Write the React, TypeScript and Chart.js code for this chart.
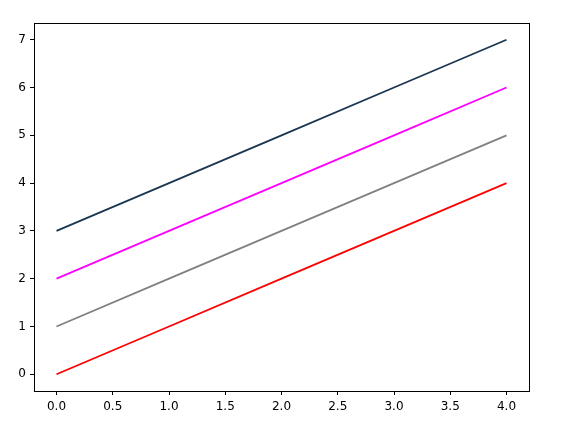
import React, { useEffect, useRef } from "react";
import { Chart, registerables } from "chart.js";

Chart.register(...registerables);

const xValues = [0, 1, 2, 3, 4];
const redSeries = [0, 1, 2, 3, 4];
const graySeries = [1, 2, 3, 4, 5];
const magentaSeries = [2, 3, 4, 5, 6];
const navySeries = [3, 4, 5, 6, 7];
const xTicks = [0, 0.5, 1, 1.5, 2, 2.5, 3, 3.5, 4];
const yTicks = [0, 1, 2, 3, 4, 5, 6, 7];

const frame = {
  id: "frame",
  afterDraw(chart: any) {
    const { ctx, chartArea } = chart;
    ctx.save();
    ctx.strokeStyle = "#000";
    ctx.lineWidth = 1;
    ctx.strokeRect(
      Math.round(chartArea.left) + 0.5,
      Math.round(chartArea.top) + 0.5,
      Math.round(chartArea.right - chartArea.left),
      Math.round(chartArea.bottom - chartArea.top)
    );
    ctx.restore();
  },
};

export default function App() {
  const ref = useRef<HTMLCanvasElement>(null);
  useEffect(() => {
    const mk = (data: number[], color: string) => ({
      data: xValues.map((x, i) => ({ x, y: data[i] })),
      borderColor: color,
      backgroundColor: color,
      borderWidth: 1.8,
      pointRadius: 0,
      fill: false,
      tension: 0,
    });
    const font = { family: "DejaVu Sans", size: 12 };
    const chart = new Chart(ref.current!, {
      type: "line",
      data: {
        datasets: [
          mk(redSeries, "#ff0000"),
          mk(graySeries, "#808080"),
          mk(magentaSeries, "#ff00ff"),
          mk(navySeries, "#1b3650"),
        ],
      },
      options: {
        animation: false,
        responsive: false,
        maintainAspectRatio: false,
        layout: { padding: { left: 0, right: 32, top: 23, bottom: 0 } },
        plugins: { legend: { display: false }, tooltip: { enabled: false } },
        scales: {
          x: {
            type: "linear",
            min: -0.2,
            max: 4.2,
            afterBuildTicks: (s: any) => {
              s.ticks = xTicks.map((v) => ({ value: v }));
            },
            afterFit: (s: any) => {
              s.height = 38;
            },
            ticks: {
              color: "#000",
              font,
              maxRotation: 0,
              autoSkip: false,
              padding: 5,
              callback: (v: any) => Number(v).toFixed(1),
            },
            grid: {
              drawOnChartArea: false,
              drawTicks: true,
              tickLength: 4,
              color: "#000",
            },
            border: { display: true, color: "#000" },
          },
          y: {
            type: "linear",
            min: -0.35,
            max: 7.35,
            afterBuildTicks: (s: any) => {
              s.ticks = yTicks.map((v) => ({ value: v }));
            },
            afterFit: (s: any) => {
              s.width = 34;
            },
            ticks: {
              color: "#000",
              font,
              autoSkip: false,
              padding: 4,
              callback: (v: any) => String(v),
            },
            grid: {
              drawOnChartArea: false,
              drawTicks: true,
              tickLength: 4,
              color: "#000",
            },
            border: { display: true, color: "#000" },
          },
        },
      },
      plugins: [frame],
    });
    return () => chart.destroy();
  }, []);
  return (
    <div style={{ position: "fixed", left: 0, top: 0, width: 561, height: 429, background: "#fff" }}>
      <canvas ref={ref} width={561} height={429} style={{ width: 561, height: 429 }} />
    </div>
  );
}
